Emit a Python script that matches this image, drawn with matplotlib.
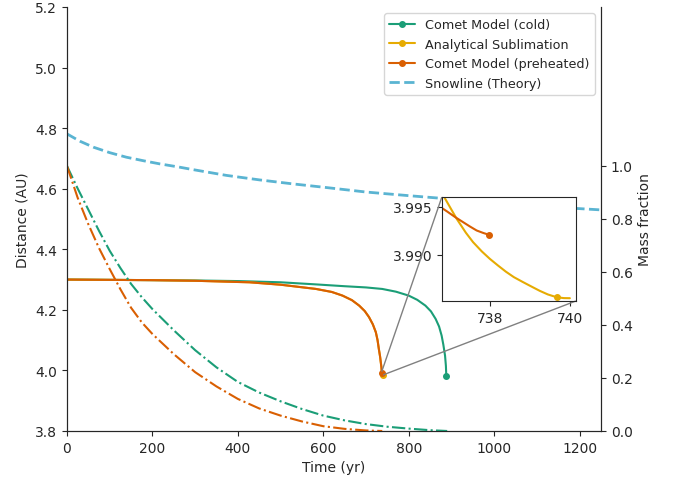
import numpy as np
import matplotlib
matplotlib.use("Agg")
import matplotlib.pyplot as plt
import seaborn as sns
from mpl_toolkits.axes_grid1.inset_locator import mark_inset

sns.set_style("ticks")
plt.rcParams['font.family'] = ['DejaVu Sans']

# distance curves (yr, AU)
t_cold = [0, 100, 200, 300, 400, 500, 583, 650, 700, 738, 770, 800, 820, 839, 852, 863, 871, 877, 881, 885, 887, 888]
d_cold = [4.300, 4.299, 4.298, 4.297, 4.295, 4.291, 4.284, 4.278, 4.274, 4.269, 4.260, 4.247, 4.233, 4.214,
          4.195, 4.170, 4.145, 4.115, 4.085, 4.049, 4.015, 3.980]

t_pre = [0, 100, 200, 300, 400, 427, 500, 583, 620, 645, 667, 684, 697, 707, 716, 723, 727, 730, 733, 736,
         736.8, 736.93, 737.13, 737.33, 737.5, 737.67, 737.83, 737.98]
d_pre = [4.300, 4.299, 4.298, 4.296, 4.292, 4.291, 4.283, 4.269, 4.259, 4.247, 4.232, 4.214, 4.196, 4.176,
         4.152, 4.126, 4.100, 4.071, 4.045, 4.010,
         3.99487, 3.99451, 3.99393, 3.99340, 3.99295, 3.99253, 3.99228, 3.99208]

t_ana = [0, 100, 200, 300, 400, 427, 500, 583, 620, 645, 667, 684, 697, 707, 716, 723, 727, 730, 733, 736,
         736.8, 736.93, 737.17, 737.4, 737.58, 737.8, 738.0, 738.2, 738.4, 738.6, 738.83, 739.05, 739.25,
         739.45, 739.67, 739.85, 740.0]
d_ana = [4.300, 4.299, 4.298, 4.296, 4.292, 4.291, 4.283, 4.269, 4.259, 4.247, 4.232, 4.214, 4.196, 4.176,
         4.152, 4.126, 4.100, 4.071, 4.045, 4.012,
         3.99643, 3.99549, 3.99375, 3.99230, 3.99132, 3.99035, 3.98958, 3.98890, 3.98825, 3.98768, 3.98716,
         3.98668, 3.98625, 3.98588, 3.98559, 3.98550, 3.98549]

t_snow = [0, 30, 62, 100, 139, 180, 217, 260, 295, 373, 451, 528, 606, 700, 800, 870, 950, 1050, 1190, 1250]
d_snow = [4.781, 4.757, 4.737, 4.719, 4.704, 4.692, 4.682, 4.672, 4.663, 4.644, 4.629, 4.616, 4.604, 4.589,
          4.577, 4.569, 4.559, 4.548, 4.535, 4.530]

# mass fraction curves
t_mcold = [0, 25, 50, 75, 100, 125, 150, 175, 200, 250, 300, 350, 400, 450, 500, 550, 600, 650, 700, 750, 800, 850, 890]
m_cold = [1.0, 0.915, 0.835, 0.755, 0.680, 0.615, 0.555, 0.505, 0.460, 0.380, 0.305, 0.240, 0.185, 0.145,
          0.112, 0.083, 0.058, 0.040, 0.026, 0.016, 0.009, 0.003, 0.0]
t_mpre = [0, 25, 50, 75, 100, 125, 150, 175, 200, 250, 300, 350, 400, 450, 500, 550, 600, 650, 700, 738]
m_pre = [1.0, 0.880, 0.780, 0.690, 0.611, 0.535, 0.465, 0.410, 0.366, 0.290, 0.222, 0.168, 0.121, 0.085,
         0.058, 0.036, 0.018, 0.008, 0.002, 0.0]

c_cold = '#1b9e77'
c_pre = '#d95f02'
c_ana = '#e6ab02'
c_snow = '#5ab4d2'

fig = plt.figure(figsize=(6.76, 4.81), dpi=100)
ax = fig.add_axes([0.0991, 0.1019, 0.7899, 0.8815])

ax.plot(t_cold, d_cold, color=c_cold, lw=1.5, marker='o', ms=4, markevery=[-1], label='Comet Model (cold)')
ax.plot(t_ana, d_ana, color=c_ana, lw=1.5, marker='o', ms=4, markevery=[-3], label='Analytical Sublimation')
ax.plot(t_pre, d_pre, color=c_pre, lw=1.5, marker='o', ms=4, markevery=[-1], label='Comet Model (preheated)')
ax.plot(t_snow, d_snow, color=c_snow, lw=2, ls='--', label='Snowline (Theory)')

ax.set_xlim(0, 1250)
ax.set_ylim(3.8, 5.2)
ax.set_xlabel('Time (yr)')
ax.set_ylabel('Distance (AU)')
ax.legend(loc='upper right', fontsize=9.2)
ax.spines['top'].set_visible(False)

ax2 = ax.twinx()
ax2.plot(t_mcold, m_cold, color=c_cold, lw=1.5, ls='-.')
ax2.plot(t_mpre, m_pre, color=c_pre, lw=1.5, ls='-.')
ax2.set_ylim(0, 1.6)
ax2.set_yticks([0.0, 0.2, 0.4, 0.6, 0.8, 1.0])
ax2.set_ylabel('Mass fraction')
ax2.spines['top'].set_visible(False)

# zoom on the end of the preheated / analytical tracks
axins = ax.inset_axes([0.702, 0.3066, 0.251, 0.245])
axins.plot(t_ana, d_ana, color=c_ana, lw=1.5, marker='o', ms=4, markevery=[-3])
axins.plot(t_pre, d_pre, color=c_pre, lw=1.5, marker='o', ms=4, markevery=[-1])
axins.set_xlim(736.8, 740.15)
axins.set_ylim(3.9852, 3.9960)
axins.set_xticks([738, 740])
axins.set_yticks([3.990, 3.995])
axins.set_yticklabels(['3.990', '3.995'])
mark_inset(ax, axins, loc1=2, loc2=4, fc='none', ec='0.5')

fig.savefig('out.png', dpi=100)
